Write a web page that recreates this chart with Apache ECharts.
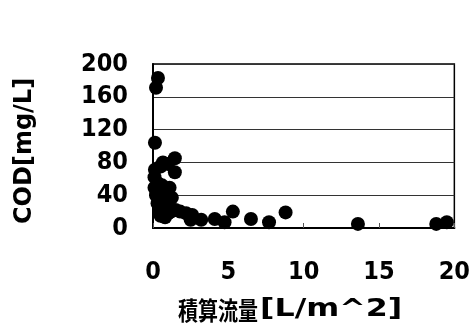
<!DOCTYPE html>
<html><head><meta charset="utf-8">
<script src="https://cdn.jsdelivr.net/npm/echarts@6/dist/echarts.min.js"></script>
<style>html,body{margin:0;padding:0;background:#fff}#c{width:473px;height:325px}</style>
</head><body><div id="c"></div>
<script>
var xTitleCJK = '積算流量';
var xTitleUnit = '[L/m^2]';
var yTitle = 'COD[mg/L]';
var xTicks = [0, 5, 10, 15, 20];
var yTicks = [0, 40, 80, 120, 160, 200];
var flowX = [0.33,0.2,0.13,0.13,0.5,0.66,1.0,1.45,1.45,0.1,0.3,0.1,0.6,1.1,0.2,0.5,1.25,0.8,0.3,0.7,1.0,0.5,0.8,1.2,1.5,1.8,2.2,2.6,2.5,3.2,4.1,4.75,5.3,6.5,7.7,8.8,13.6,18.8,19.5,0.5,1.0];
var codY  = [183,171,104,71,75,80,78,85,68,62,55,49,52,49,40,42,37,45,30,28,33,22,13,20,22,20,18,16,10,10,11,7,20,11,7,19,5,5,7,15,18];
var pts = flowX.map(function(x, i){ return [x, codY[i]]; });
var chart = echarts.init(document.getElementById('c'), null, {renderer:'canvas'});
var lblFont = {fontFamily:'"DejaVu Sans Condensed", "DejaVu Sans"', fontWeight:'bold', fontSize:25, color:'#000'};
chart.setOption({
  animation:false,
  grid:{left:153, right:17, top:64, bottom:97, show:true, borderColor:'#000', borderWidth:1.5, backgroundColor:'transparent'},
  xAxis:{type:'value', min:xTicks[0], max:xTicks[xTicks.length-1], interval:5,
    axisLine:{show:true, lineStyle:{color:'#000', width:2}},
    axisTick:{show:true, inside:true, length:5, lineStyle:{color:'#555', width:1}},
    splitLine:{show:false},
    axisLabel:Object.assign({margin:32}, lblFont)},
  yAxis:{type:'value', min:yTicks[0], max:yTicks[yTicks.length-1], interval:40,
    axisLine:{show:true, lineStyle:{color:'#000', width:2}},
    axisTick:{show:false},
    splitLine:{show:true, lineStyle:{color:'#333', width:1}},
    axisLabel:Object.assign({margin:25, padding:[5,0,0,0]}, lblFont)},
  graphic:[
    {type:'text', x:178, y:310, scaleX:0.8, style:{text:xTitleCJK, font:'bold 25px "Noto Sans CJK JP"', fill:'#000', textVerticalAlign:'middle'}},
    {type:'text', x:260, y:310, scaleX:1.32, style:{text:xTitleUnit, font:'bold 24px "DejaVu Sans"', fill:'#000', textVerticalAlign:'middle'}},
    {type:'text', x:13, y:224, rotation:Math.PI/2, style:{text:yTitle, font:'bold 24px "DejaVu Sans"', fill:'#000'}}
  ],
  series:[{type:'scatter', data:pts, symbol:'circle', symbolSize:14, itemStyle:{color:'#000', opacity:1}}]
});
</script></body></html>
